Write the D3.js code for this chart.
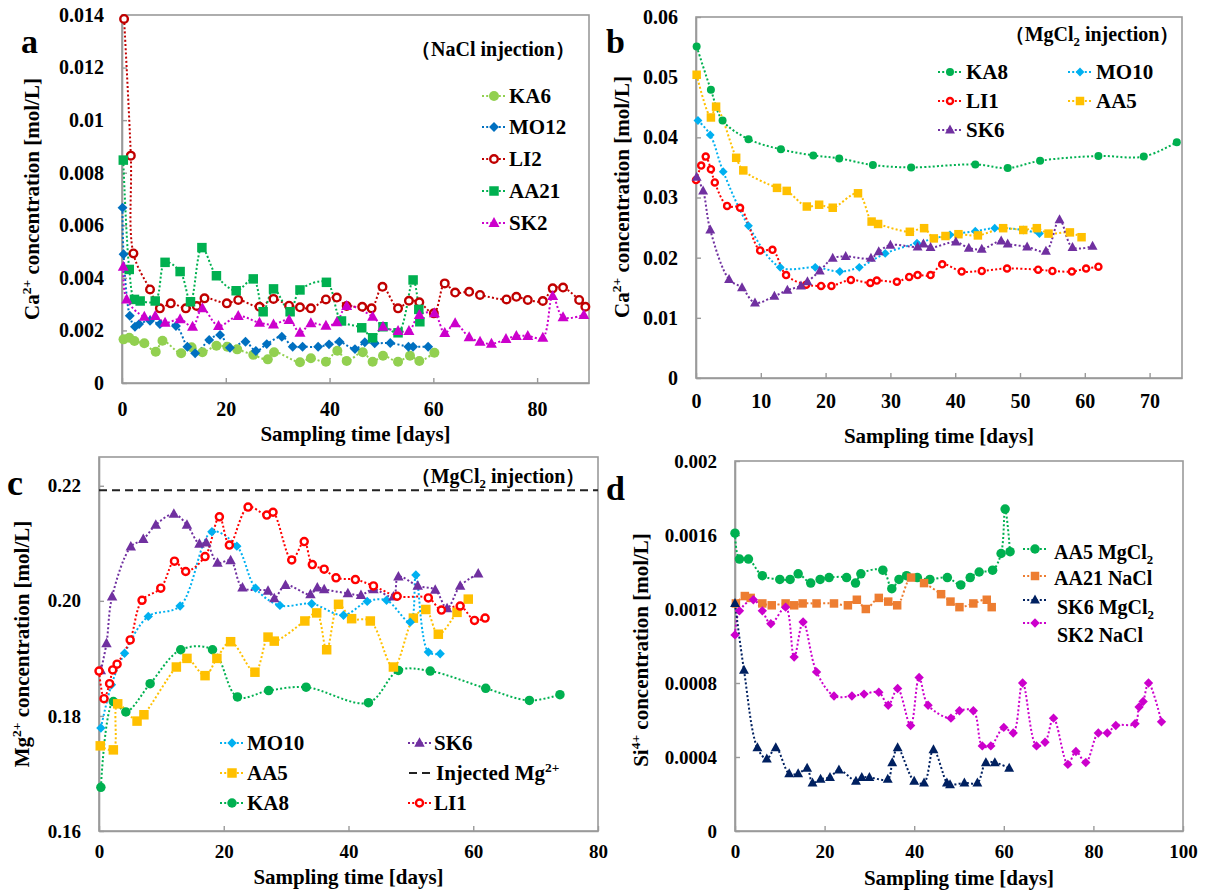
<!DOCTYPE html>
<html><head><meta charset="utf-8">
<script src="https://cdn.jsdelivr.net/npm/d3@7"></script>
<style>
body{margin:0;background:#fff}
svg{display:block}
text{font-family:"Liberation Serif","Times New Roman",serif;font-weight:bold;fill:#000}
</style>
</head><body>
<svg id="chart" width="1209" height="895"></svg>
<script>
// ---------------- DATA ----------------
// Panel a : Ca2+ (NaCl injection)  [day, mol/L]
const aKA6 = [[0.3,.00166],[1.4,.00172],[2.4,.0016],[4.3,.00151],[6.5,.00119],[7.8,.00161],[11.4,.00113],[13.4,.00136],[15.5,.00117],[18.2,.00142],[20.3,.00138],[22.2,.00128],[25.3,.00107],[28.1,.0009],[29.3,.00117],[34.3,.00079],[36.4,.00094],[39.3,.00081],[41.5,.00123],[43.3,.00084],[46.4,.00117],[48.3,.00081],[50.3,.00104],[53.2,.00081],[55.5,.00104],[57.3,.00084],[60.2,.00115]];
const aMO12 = [[0.1,.00667],[0.3,.0049],[1.5,.00256],[2.5,.00214],[3.3,.00224],[5.4,.00237],[7.3,.00224],[10.4,.00217],[12.6,.00138],[14.1,.00113],[16.8,.00164],[18.9,.00183],[20.8,.00134],[23.8,.00157],[25.8,.00122],[27.9,.00148],[30.8,.00176],[32.9,.00138],[34.8,.00138],[37.8,.00138],[39.9,.00147],[41.9,.00157],[44.9,.00129],[46.8,.00155],[48.7,.00151],[51.7,.00152],[55.2,.00138],[56.1,.00138],[59,.00138]];
const aLI2 = [[0.4,.01385],[1.7,.00865],[2.2,.00493],[5.4,.00356],[7.3,.00284],[9.4,.00303],[12.3,.00284],[14.4,.00293],[15.9,.00322],[20.2,.00303],[22.4,.00316],[26.5,.0029],[29.2,.0032],[32.2,.00294],[34.3,.00288],[36.4,.00284],[39.3,.00318],[41.4,.00325],[43.3,.00293],[46.3,.0029],[48.1,.00284],[50.2,.00366],[53.2,.00284],[55.3,.00313],[57.3,.00307],[60.1,.00265],[62.2,.00379],[64.2,.00344],[66.9,.00347],[69,.00335],[74.1,.00318],[76,.00328],[78.2,.00316],[81.1,.00312],[83,.0036],[85,.00363],[88.1,.00316],[89.3,.0029]];
const aAA21 = [[0.25,.00848],[1.4,.00432],[2.4,.00318],[3.5,.00312],[6.4,.00312],[8.3,.00459],[11.2,.00424],[13.2,.00309],[15.4,.00515],[18.2,.00408],[22,.00351],[25.3,.00396],[27.2,.00271],[29.2,.00358],[32.4,.00271],[34.3,.00354],[39.4,.00383],[42.3,.00236],[46.2,.0021],[48.3,.00172],[50.3,.00214],[53.2,.00191],[56.1,.00392],[57.2,.0028],[57.4,.00233]];
const aSK2 = [[0.25,.00442],[0.9,.00318],[4.3,.00252],[6.4,.00255],[8.3,.00229],[11.2,.00243],[13.6,.00214],[15.5,.00284],[18.6,.00217],[22.4,.00255],[26.5,.00229],[29.2,.00223],[32.2,.0024],[34.3,.00191],[36.4,.00227],[39.3,.00218],[41.4,.00231],[43.3,.00293],[48.3,.00252],[50.3,.00214],[53.2,.00198],[55.3,.00198],[57.3,.00259],[60.2,.00265],[62.2,.0019],[64.2,.00227],[66.9,.00174],[69,.00157],[71.2,.00149],[74,.00167],[76,.00179],[78.2,.00179],[81.1,.00172],[83,.00331],[85,.0025],[89,.00259]];

// Panel b : Ca2+ (MgCl2 injection)
const bKA8 = [[0.1,.0551],[2.3,.0479],[4.1,.0428],[8.1,.0397],[13.1,.038],[18.1,.037],[22.1,.0365],[27.3,.0354],[33.2,.035],[43.1,.0355],[48.1,.0349],[53.1,.0361],[62.1,.0369],[69.1,.0368],[74.2,.0392]];
const bMO10 = [[0.3,.0428],[2.2,.0404],[4.2,.0343],[8.1,.0253],[13,.0184],[18.4,.0184],[22.2,.0177],[25.2,.0184],[29.2,.0207],[34.1,.0224],[39.2,.0238],[43.1,.0244],[46.1,.0249],[50.5,.0246],[53,.024]];
const bLI1 = [[0,.0329],[0.8,.0353],[1.5,.0368],[2.3,.0347],[2.9,.0325],[4.8,.0286],[6.8,.0283],[9.9,.0212],[11.8,.0213],[13.9,.0171],[17,.0155],[19.3,.0153],[20.9,.0153],[23.9,.0163],[26.9,.0158],[27.9,.0162],[31,.016],[32.9,.0168],[34.2,.0171],[36.2,.0171],[38,.0189],[41,.0177],[44.1,.0178],[48,.0182],[52.8,.018],[55,.0178],[58,.0177],[60.2,.0182],[62.1,.0185]];
const bAA5 = [[0.1,.0504],[2.3,.0433],[3.1,.0451],[6.2,.0366],[7.3,.0345],[12.5,.0316],[14,.0311],[17.1,.0285],[19,.0288],[21.1,.0283],[25,.0307],[27.1,.026],[28.1,.0256],[33,.0243],[35.2,.0249],[36.7,.0232],[38.5,.0236],[40.5,.0239],[43.5,.0237],[47.4,.0249],[50.5,.0246],[52.6,.0249],[54.4,.024],[57.7,.0242],[59.5,.0234]];
const bSK6 = [[0.1,.0334],[1.1,.0311],[2.2,.0246],[5.1,.0164],[7.1,.015],[9.1,.0125],[12.1,.0136],[14.1,.0146],[16.2,.0153],[17.2,.016],[19.1,.0178],[21.1,.0199],[23.1,.0202],[27,.0199],[28.2,.021],[30,.0221],[34.2,.0218],[35.1,.0223],[36.2,.0217],[40.1,.0226],[42.1,.0216],[44.1,.0214],[47.1,.0228],[48.1,.0223],[51.1,.0218],[54,.0211],[56.1,.0263],[58.1,.0217],[61.2,.0219]];

// Panel c : Mg2+ (MgCl2 injection)
const cMO10 = [[0.3,.1779],[2,.1854],[4.1,.1909],[7.9,.1973],[13,.1991],[18.1,.212],[22.1,.2095],[25.1,.2022],[29,.1992],[34.1,.1995],[39.2,.1975],[43,.1999],[46.1,.2001],[49.9,.1963],[50.8,.2045],[52.8,.1911],[54.7,.1908]];
const cAA5 = [[0.2,.1748],[2.3,.1741],[3,.1821],[6.1,.1791],[7.2,.1802],[12.4,.1885],[14.1,.19],[17,.187],[18.9,.19],[21.1,.1929],[25,.1876],[27.1,.1937],[28.1,.193],[33,.1965],[34.9,.1979],[36.5,.1915],[38.4,.1994],[40.5,.1969],[43.5,.1965],[47.2,.1885],[50.4,.197],[52.4,.1985],[54.4,.1942],[57.4,.198],[59.2,.2003]];
const cKA8 = [[0.3,.1676],[2.3,.1825],[4.3,.1807],[8.2,.1856],[13.1,.1915],[18.2,.1915],[22.2,.1833],[27.2,.1844],[33.2,.185],[43.2,.1823],[48,.1879],[53.1,.1878],[62,.1848],[69,.1827],[73.9,.1837]];
const cLI1 = [[0,.1878],[0.8,.183],[1.7,.1856],[2.2,.188],[2.9,.189],[5,.1932],[6.9,.2001],[9.9,.2022],[12.1,.2069],[13.9,.2051],[17,.2077],[19.3,.2146],[20.9,.2097],[23.9,.2163],[26.9,.2149],[27.9,.2154],[30.9,.2071],[32.9,.2103],[34.2,.2063],[36.1,.2055],[38,.204],[41.1,.2037],[44,.2026],[47.8,.2008],[52.8,.2005],[54.9,.1984],[57.9,.1991],[60.2,.1966],[61.9,.197]];
const cSK6 = [[0.3,.1879],[1.2,.1926],[2.1,.2007],[5.1,.2094],[7.1,.2107],[9.1,.2132],[12,.2151],[14.1,.2132],[16.1,.2099],[17.2,.2101],[19,.2066],[21.1,.207],[23,.2023],[27.1,.2017],[28.1,.2004],[29.9,.2027],[33.9,.2011],[35,.2023],[36.1,.202],[39.9,.2013],[42,.201],[44,.202],[47.2,.2007],[48,.2042],[51.1,.2026],[53.9,.2019],[55.8,.1987],[57.9,.2026],[60.8,.2047]];
const cInjectedMg = 0.2192;

// Panel d : Si4+
const dAA5Mg = [[0,.00161],[1,.00147],[3,.00147],[6.1,.00138],[10,.00136],[12.3,.00136],[14.1,.00139],[16.9,.00134],[19,.00136],[21,.00137],[24.9,.00137],[26.9,.00134],[28.1,.00139],[33,.00141],[35,.00131],[36.6,.00136],[38.3,.00138],[40.7,.00137],[43.5,.00136],[47.4,.00137],[50.4,.00133],[52.5,.00137],[54.5,.0014],[57.5,.00141],[59.4,.0015],[60.3,.00174],[61.4,.00151]];
const dAA21Na = [[0.2,.00123],[2.2,.00127],[3.5,.00126],[6.1,.00123],[8.2,.00122],[11.3,.00123],[13.2,.00122],[15.1,.00123],[18.2,.00123],[22.1,.00123],[25.2,.00122],[27.2,.00125],[29.2,.0012],[32.1,.00126],[34.2,.00124],[36.2,.00122],[39.3,.00137],[42.2,.00134],[46,.00128],[48.1,.00124],[50.1,.00121],[53.2,.00123],[56.2,.00125],[57.3,.00121]];
const dSK6Mg = [[0,.00123],[2,.00087],[5,.00045],[7.1,.00039],[9.1,.00045],[12.1,.00031],[14.1,.00031],[16.1,.00034],[17.3,.00026],[19.1,.00028],[21.2,.00029],[23.2,.00033],[27,.00027],[28.3,.00029],[30,.00029],[34.1,.00028],[35.1,.00037],[36.3,.00045],[40,.00027],[42.2,.00026],[44.3,.00044],[47.3,.00026],[48,.00025],[51.2,.00026],[54.1,.00026],[56,.00037],[58,.00037],[61.2,.00034]];
const dSK2Na = [[0,.00106],[1,.00119],[4.1,.00125],[6.1,.00119],[8,.00112],[11.3,.00121],[13.2,.00094],[15.2,.00113],[18.2,.00086],[22.1,.00073],[26.1,.00073],[28.8,.00074],[32.1,.00075],[34.2,.00068],[36.3,.00077],[39.2,.00057],[41.1,.00083],[43.1,.00068],[48.2,.00061],[50.1,.00065],[53.2,.00065],[55.2,.00046],[57.1,.00046],[60,.00056],[62.1,.00053],[64.2,.0008],[67.3,.00046],[69.2,.00048],[71.1,.00061],[74.3,.00036],[76.1,.00043],[78.3,.00037],[81.1,.00053],[83.1,.00053],[85,.00057],[89.3,.00058],[90.2,.00067],[91.1,.0007],[92.3,.0008],[95.2,.00059]];

// Ticks
const aXTicks = [0,20,40,60,80];
const aYTicks = [0,0.002,0.004,0.006,0.008,0.01,0.012,0.014];
const aYLabels = ["0","0.002","0.004","0.006","0.008","0.01","0.012","0.014"];
const bXTicks = [0,10,20,30,40,50,60,70];
const bYTicks = [0,0.01,0.02,0.03,0.04,0.05,0.06];
const bYLabels = ["0","0.01","0.02","0.03","0.04","0.05","0.06"];
const cXTicks = [0,20,40,60,80];
const cYTicks = [0.16,0.18,0.20,0.22];
const cYLabels = ["0.16","0.18","0.20","0.22"];
const dXTicks = [0,20,40,60,80,100];
const dYTicks = [0,0.0004,0.0008,0.0012,0.0016,0.002];
const dYLabels = ["0","0.0004","0.0008","0.0012","0.0016","0.002"];

// ---------------- DRAWING ----------------
const svg = d3.select('#chart');
const AX = '#9a9a9a';

function richParts(str){
  const parts=[]; const re=/\{([_^])([^}]*)\}/g; let last=0,m;
  while((m=re.exec(str))){ if(m.index>last) parts.push([str.slice(last,m.index),'n']); parts.push([m[2], m[1]==='^'?'sup':'sub']); last=re.lastIndex; }
  if(last<str.length) parts.push([str.slice(last),'n']);
  return parts;
}
function rich(t, str, size){
  let off=0;
  richParts(str).forEach(([s,mode])=>{
    const target = mode==='sup'? -0.4*size : mode==='sub'? 0.25*size : 0;
    const ts = t.append('tspan').text(s).attr('dy', target-off);
    if(mode!=='n') ts.attr('font-size', size*0.64);
    off = target;
  });
}
function markerPath(type, s){
  const h=s/2;
  if(type==='square') return `M${-h},${-h}h${s}v${s}h${-s}Z`;
  if(type==='diamond') return `M0,${-h*1.1}L${h*1.1},0L0,${h*1.1}L${-h*1.1},0Z`;
  if(type==='triangle') return `M0,${-s*0.6}L${s*0.55},${s*0.4}L${-s*0.55},${s*0.4}Z`;
  const p=d3.path(); p.arc(0,0,h,0,2*Math.PI); return p.toString();
}
function drawMarker(g, s, cx, cy){
  if(s.marker==='ocircle'){
    g.append('circle').attr('cx',cx).attr('cy',cy).attr('r',s.size/2-1.2)
      .attr('fill','#fff').attr('stroke',s.color).attr('stroke-width',2.4);
  } else {
    g.append('path').attr('d',markerPath(s.marker,s.size)).attr('transform',`translate(${cx},${cy})`).attr('fill',s.color);
  }
}

function drawPanel(p){
  const [x0,y0,x1,y1]=p.box;
  const x=d3.scaleLinear().domain(p.xd).range([x0,x1]);
  const y=d3.scaleLinear().domain(p.yd).range([y1,y0]);
  const g=svg.append('g');
  g.append('rect').attr('x',x0).attr('y',y0).attr('width',x1-x0).attr('height',y1-y0)
    .attr('fill','none').attr('stroke',AX).attr('stroke-width',1.6);
  const xa=g.append('g').attr('transform',`translate(0,${y1})`)
    .call(d3.axisBottom(x).tickValues(p.xt).tickFormat(d=>d).tickSizeInner(-5).tickSizeOuter(0).tickPadding(p.xpad));
  const ya=g.append('g').attr('transform',`translate(${x0},0)`)
    .call(d3.axisLeft(y).tickValues(p.yt).tickFormat((d,i)=>p.yl[i]).tickSizeInner(-5).tickSizeOuter(0).tickPadding(18));
  [xa,ya].forEach(a=>{
    a.select('.domain').attr('stroke',AX).attr('stroke-width',1.6);
    a.selectAll('.tick line').attr('stroke',AX).attr('stroke-width',1.4);
    a.selectAll('.tick text').attr('font-size',p.tfs).attr('fill','#000')
      .style('font-family','"Liberation Serif","Times New Roman",serif').style('font-weight','bold');
  });
  // axis titles
  g.append('text').attr('x',(x0+x1)/2).attr('y',p.xtY).attr('text-anchor','middle').attr('font-size',21).text('Sampling time [days]');
  const yt=g.append('text').attr('transform',`translate(${p.ytX},${p.ytC}) rotate(-90)`).attr('text-anchor','middle').attr('font-size',21);
  rich(yt,p.ytitle,21);
  // letter
  g.append('text').attr('x',p.letter[1]).attr('y',p.letter[2]).attr('font-size',p.letter[3]).text(p.letter[0]);
  // extra lines
  if(p.hline!==undefined){
    g.append('path').datum(p.xd.map(d=>[d,p.hline]))
      .attr('d',d3.line().x(d=>x(d[0])).y(d=>y(d[1])))
      .attr('stroke','#222').attr('stroke-width',2).attr('stroke-dasharray','8,5').attr('fill','none');
  }
  const line=d3.line().x(d=>x(d[0])).y(d=>y(d[1])).curve(d3.curveCatmullRom.alpha(0.5));
  p.series.forEach(s=>{
    g.append('path').datum(s.data).attr('d',line).attr('fill','none')
      .attr('stroke',s.color).attr('stroke-width',2).attr('stroke-dasharray','2,2.2');
  });
  p.series.forEach(s=>{
    s.data.forEach(d=>drawMarker(g,s,x(d[0]),y(d[1])));
  });
  // legend
  const lg=svg.append('g');
  if(p.ltitle){
    const t=lg.append('text').attr('x',p.ltitle[1]).attr('y',p.ltitle[2]).attr('text-anchor','middle').attr('font-size',p.ltitle[3]);
    rich(t,p.ltitle[0],p.ltitle[3]);
  }
  p.legend.forEach(it=>{
    const [s,lx0,lx1,ly,tx,ty,fs]=it;
    if(s.dash){
      lg.append('line').attr('x1',lx0).attr('x2',lx1).attr('y1',ly).attr('y2',ly)
        .attr('stroke','#222').attr('stroke-width',2).attr('stroke-dasharray','8,5');
    } else {
      lg.append('line').attr('x1',lx0).attr('x2',lx1).attr('y1',ly).attr('y2',ly)
        .attr('stroke',s.color).attr('stroke-width',2).attr('stroke-dasharray','2,2.2');
      drawMarker(lg,s,(lx0+lx1)/2,ly);
    }
    const t=lg.append('text').attr('x',tx).attr('y',ty+0.33*fs).attr('font-size',fs);
    rich(t,s.label,fs);
  });
}

// ---- series styles ----
const sA = {
  KA6:{label:'KA6',data:aKA6,color:'#92D050',marker:'circle',size:10},
  MO12:{label:'MO12',data:aMO12,color:'#0070C0',marker:'diamond',size:9},
  LI2:{label:'LI2',data:aLI2,color:'#C00000',marker:'ocircle',size:10},
  AA21:{label:'AA21',data:aAA21,color:'#00B050',marker:'square',size:9.5},
  SK2:{label:'SK2',data:aSK2,color:'#CC00CC',marker:'triangle',size:10}
};
const sB = {
  KA8:{label:'KA8',data:bKA8,color:'#00B050',marker:'circle',size:8},
  MO10:{label:'MO10',data:bMO10,color:'#00B0F0',marker:'diamond',size:8},
  LI1:{label:'LI1',data:bLI1,color:'#FF0000',marker:'ocircle',size:8.5},
  AA5:{label:'AA5',data:bAA5,color:'#FFC000',marker:'square',size:8.5},
  SK6:{label:'SK6',data:bSK6,color:'#7030A0',marker:'triangle',size:9}
};
const sC = {
  MO10:{label:'MO10',data:cMO10,color:'#00B0F0',marker:'diamond',size:8.5},
  AA5:{label:'AA5',data:cAA5,color:'#FFC000',marker:'square',size:9.5},
  KA8:{label:'KA8',data:cKA8,color:'#00B050',marker:'circle',size:9.5},
  LI1:{label:'LI1',data:cLI1,color:'#FF0000',marker:'ocircle',size:9.5},
  SK6:{label:'SK6',data:cSK6,color:'#7030A0',marker:'triangle',size:9.5}
};
const sD = {
  AA5:{label:'AA5 MgCl{_2}',data:dAA5Mg,color:'#00B050',marker:'circle',size:9.5},
  AA21:{label:'AA21 NaCl',data:dAA21Na,color:'#ED7D31',marker:'square',size:8.5},
  SK6:{label:'SK6 MgCl{_2}',data:dSK6Mg,color:'#002060',marker:'triangle',size:9},
  SK2:{label:'SK2 NaCl',data:dSK2Na,color:'#CC00CC',marker:'diamond',size:8.5}
};

drawPanel({box:[122,15,589,383],xd:[0,90],yd:[0,0.014],xt:aXTicks,yt:aYTicks,yl:aYLabels,tfs:20,xpad:19,
  xtY:441,ytX:39,ytC:199,ytitle:'Ca{^2+} concentration [mol/L]',letter:['a',21,53,34],
  series:[sA.KA6,sA.MO12,sA.LI2,sA.AA21,sA.SK2],
  ltitle:['（NaCl injection）',493,56,20],
  legend:[[sA.KA6,482,506,96,509,96,21],[sA.MO12,482,506,127,509,127,21],[sA.LI2,482,506,159,509,159,21],[sA.AA21,482,506,191,509,191,21],[sA.SK2,482,506,223,509,223,21]]});

drawPanel({box:[696,17,1182,378],xd:[0,75],yd:[0,0.06],xt:bXTicks,yt:bYTicks,yl:bYLabels,tfs:20,xpad:16,
  xtY:443,ytX:629,ytC:197,ytitle:'Ca{^2+} concentration [mol/L]',letter:['b',606,53,34],
  series:[sB.KA8,sB.MO10,sB.LI1,sB.AA5,sB.SK6],
  ltitle:['（MgCl{_2} injection）',1092,41,20],
  legend:[[sB.KA8,938,962,72,966,72,21],[sB.LI1,938,962,101,966,101,21],[sB.SK6,938,962,130,966,130,21],[sB.MO10,1068,1092,72,1096,72,21],[sB.AA5,1068,1092,101,1096,101,21]]});

drawPanel({box:[99,457,598,831],xd:[0,80],yd:[0.16,0.225],xt:cXTicks,yt:cYTicks,yl:cYLabels,tfs:19,xpad:14,
  xtY:884,ytX:29,ytC:644,ytitle:'Mg{^2+} concentration [mol/L]',letter:['c',7,495,36],
  hline:cInjectedMg,
  series:[sC.KA8,sC.AA5,sC.MO10,sC.SK6,sC.LI1],
  ltitle:['（MgCl{_2} injection）',498,483,20],
  legend:[[sC.MO10,220,244,743,247,743,21],[sC.AA5,220,244,773,247,773,21],[sC.KA8,220,244,803,247,803,21],
          [sC.SK6,408,431,743,434,743,21],[{label:'Injected Mg{^2+}',dash:true},409,431,773,436,773,21],[sC.LI1,408,431,803,434,803,21]]});

drawPanel({box:[735,461,1183,831],xd:[0,100],yd:[0,0.002],xt:dXTicks,yt:dYTicks,yl:dYLabels,tfs:19,xpad:14,
  xtY:885,ytX:648,ytC:650,ytitle:'Si{^4+} concentration [mol/L]',letter:['d',606,500,34],
  series:[sD.AA5,sD.AA21,sD.SK2,sD.SK6],
  legend:[[sD.AA5,1023,1047,549,1054,552,20],[sD.AA21,1023,1047,576,1054,578,20],[sD.SK6,1023,1047,600,1057,607,20],[sD.SK2,1023,1047,623,1057,635,20]]});
</script>
</body></html>
